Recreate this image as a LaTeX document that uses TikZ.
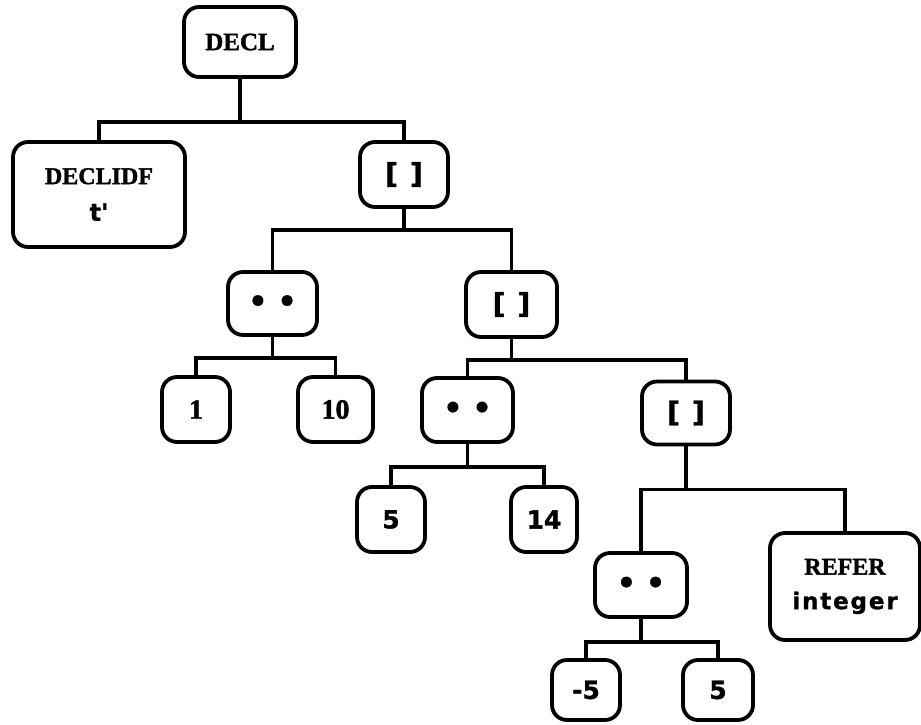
\documentclass[tikz,border=0pt]{standalone}
\usepackage{fontspec}
\setmainfont{Liberation Serif}[FakeBold=1.5]
\newfontfamily\labelsans{DejaVu Sans}[FakeBold=1.2]
\newfontfamily\widesans{DejaVu Sans}[LetterSpace=8,FakeBold=1.2]
\begin{document}
\begin{tikzpicture}[x=1pt,y=-1pt,
  treebox/.style={draw,line width=3.8pt,rounded corners=15pt,inner sep=0pt,
    align=center},
  serifbold/.style={font=\fontsize{25}{29}\selectfont\bfseries},
  serifnum/.style={font=\fontsize{28}{30}\selectfont\bfseries},
  sansbold/.style={font=\labelsans\fontsize{25}{28}\selectfont\bfseries},
  dotpair/.style={font=\labelsans\fontsize{30}{30}\selectfont\bfseries},
  brackets/.style={font=\labelsans\fontsize{28}{30}\selectfont\bfseries},
  edge/.style={line width=3.8pt}]
\useasboundingbox (0,0) rectangle (921,725);

% ---- nodes ----
\node[treebox,serifbold,minimum width=112pt,minimum height=70pt] (decl) at (240,42) {DECL};
\node[treebox,minimum width=172pt,minimum height=105pt] (declidf) at (99,194.5)
  {{\fontsize{24}{28}\selectfont\bfseries DECLIDF}\\[18pt]{\labelsans\fontsize{24}{26}\selectfont\bfseries t'}};
\node[treebox,brackets,minimum width=88pt,minimum height=65pt] (arrA) at (404,174.5) {[\hspace{12pt}]};

\node[treebox,dotpair,minimum width=89pt,minimum height=63pt] (rngA) at (272.5,303.5) {•\hspace{10pt}•};
\node[treebox,brackets,minimum width=91pt,minimum height=65pt] (arrB) at (511.5,304.5) {[\hspace{12pt}]};

\node[treebox,serifnum,minimum width=68pt,minimum height=65pt] (lowA) at (196,409.5) {1};
\node[treebox,serifnum,minimum width=75pt,minimum height=65pt] (highA) at (335.5,409.5) {10};
\node[treebox,dotpair,minimum width=91pt,minimum height=64pt] (rngB) at (467.5,410) {•\hspace{10pt}•};
\node[treebox,brackets,minimum width=88pt,minimum height=63pt] (arrC) at (686,413) {[\hspace{12pt}]};

\node[treebox,sansbold,minimum width=68pt,minimum height=65pt] (lowB) at (391,519.5) {5};
\node[treebox,sansbold,minimum width=66pt,minimum height=65pt] (highB) at (544,519.5) {14};

\node[treebox,dotpair,minimum width=92pt,minimum height=64pt] (rngC) at (641,585) {•\hspace{10pt}•};
\node[treebox,minimum width=150pt,minimum height=107pt] (refer) at (845,586.5)
  {{\fontsize{24}{28}\selectfont\bfseries REFER}\\[16pt]{\widesans\fontsize{23}{26}\selectfont\bfseries integer}};

\node[treebox,sansbold,minimum width=68pt,minimum height=60pt] (lowC) at (586,690) {-5};
\node[treebox,sansbold,minimum width=70pt,minimum height=60pt] (highC) at (718,690) {5};

% ---- connectors ----
\draw[edge] (decl.south) -- ++(0,43) -| (declidf.north);
\draw[edge] (decl.south) -- ++(0,43) -| (arrA.north);

\draw[edge] (arrA.south) -- ++(0,21) -| (rngA.north);
\draw[edge] (arrA.south) -- ++(0,21) -| (arrB.north);

\draw[edge] (rngA.south) -- ++(0,21) -| (lowA.north);
\draw[edge] (rngA.south) -- ++(0,21) -| (highA.north);

\draw[edge] (arrB.south) -- ++(0,21) -| (rngB.north);
\draw[edge] (arrB.south) -- ++(0,21) -| (arrC.north);

\draw[edge] (rngB.south) -- ++(0,23) -| (lowB.north);
\draw[edge] (rngB.south) -- ++(0,23) -| (highB.north);

\draw[edge] (arrC.south) -- ++(0,43) -| (rngC.north);
\draw[edge] (arrC.south) -- ++(0,43) -| (refer.north);

\draw[edge] (rngC.south) -- ++(0,23) -| (lowC.north);
\draw[edge] (rngC.south) -- ++(0,23) -| (highC.north);
\end{tikzpicture}
\end{document}
